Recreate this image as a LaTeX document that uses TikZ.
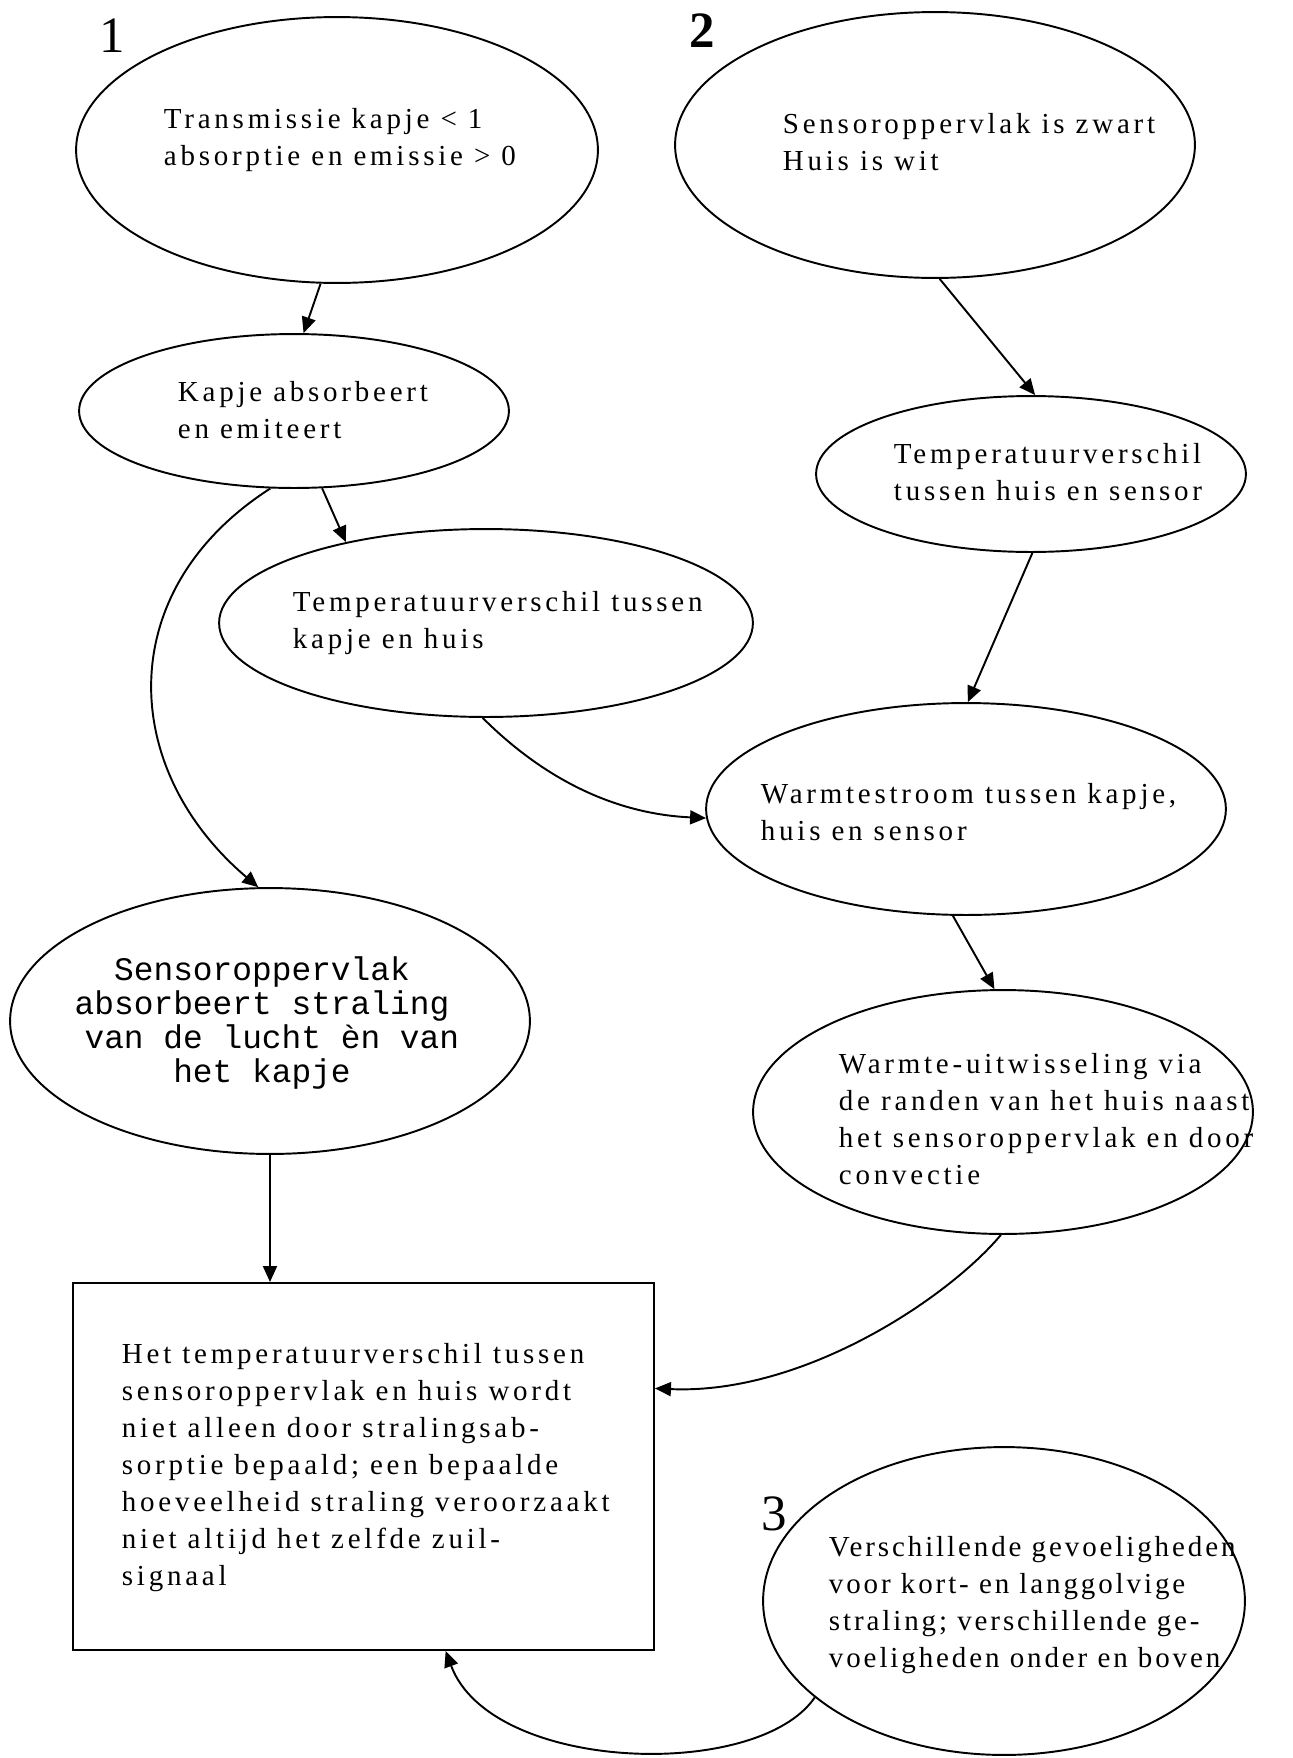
\documentclass[tikz,border=0pt]{standalone}
\usepackage{fontspec}
\setmainfont{Liberation Serif}
\setmonofont{Liberation Mono}
\usetikzlibrary{shapes.geometric, arrows.meta}

\begin{document}
\begin{tikzpicture}[x=0.02cm, y=-0.02cm, line width=1.1pt,
    >={Triangle[length=0.32cm, width=0.28cm]},
    blob/.style 2 args={draw, ellipse, inner sep=0pt, minimum width=#1*0.04cm, minimum height=#2*0.04cm},
    txt/.style={anchor=base west, align=left, inner sep=0pt, font=\fontsize{16.5}{21}\selectfont\addfontfeatures{LetterSpace=13}},
    num/.style={inner sep=0pt, font=\fontsize{29}{30}\selectfont}]
    \useasboundingbox (0,0) rectangle (1292,1758);

    % left column (text nodes sit on the baseline of their last line)
    \node[num] (one) at (112,36) {1};
    \node[blob={261}{133}] (trans) at (337,150) {};
    \node[txt] (transtxt) at (163,165) {Transmissie kapje < 1\\absorptie en emissie > 0};
    \node[blob={215}{77}] (kapje) at (294,411) {};
    \node[txt] (kapjetxt) at (177,438) {Kapje absorbeert\\en emiteert};
    \node[blob={267}{94}] (tvkh) at (486,623) {};
    \node[txt] (tvkhtxt) at (292,648) {Temperatuurverschil tussen\\kapje en huis};
    \node[blob={260}{133}] (sabs) at (270,1021) {};
    \node[anchor=base, align=center, inner sep=0pt, font=\fontsize{18.7}{19.3}\selectfont\ttfamily] (sabstxt) at (262,1082)
        {Sensoroppervlak\\absorbeert straling\\~van de lucht èn van\\het kapje};

    % right column
    \node[num, font=\fontsize{29}{30}\selectfont\bfseries] (two) at (702,31) {2};
    \node[blob={260}{133}] (zwart) at (935,145) {};
    \node[txt] (zwarttxt) at (782,170) {Sensoroppervlak is zwart\\Huis is wit};
    \node[blob={215}{78}] (tvhs) at (1031,474) {};
    \node[txt] (tvhstxt) at (893,500) {Temperatuurverschil\\tussen huis en sensor};
    \node[blob={260}{106}] (wstroom) at (966,809) {};
    \node[txt] (wstroomtxt) at (760,840) {Warmtestroom tussen kapje,\\huis en sensor};
    \node[blob={250}{122}] (wuit) at (1003,1112) {};
    \node[txt] (wuittxt) at (838,1184) {Warmte-uitwisseling via\\de randen van het huis naast\\het sensoroppervlak en door\\convectie};

    % bottom
    \node[draw, inner sep=0pt, minimum width=581*0.02cm, minimum height=367*0.02cm] (box) at (363.5,1466.5) {};
    \node[txt] (boxtxt) at (121,1585) {Het temperatuurverschil tussen\\sensoroppervlak en huis wordt\\niet alleen door stralingsab-\\sorptie bepaald; een bepaalde\\hoeveelheid straling veroorzaakt\\niet altijd het zelfde zuil-\\signaal};
    \node[num] (three) at (774,1514) {3};
    \node[blob={241}{154}] (gevoel) at (1004,1601) {};
    \node[txt, font=\fontsize{16.5}{21}\selectfont\addfontfeatures{LetterSpace=10}] (gevoeltxt) at (828,1667)
        {Verschillende gevoeligheden\\voor kort- en langgolvige\\straling; verschillende ge-\\voeligheden onder en boven};

    \draw[->] (trans.263) -- (kapje.83);
    \draw[->] (kapje.290) -- (tvkh.150);
    \draw[->] (kapje.253) .. controls (112,590) and (119,769) .. (sabs.95);
    \draw[->] (tvkh.268) .. controls (546,781) and (617,814) .. (wstroom.182);
    \draw[->] (zwart.272) -- (tvhs.87);
    \draw[->] (tvhs.271) -- (wstroom.89);
    \draw[->] (wstroom.263) -- (wuit.94);
    \draw[->] (wuit.269) .. controls (949,1297) and (804,1395) .. (box.15);
    \draw[->] (sabs) -- (sabs |- box.north);
    \draw[->] (gevoel.207) .. controls (758,1781) and (491,1773) .. (box.294);
\end{tikzpicture}
\end{document}
